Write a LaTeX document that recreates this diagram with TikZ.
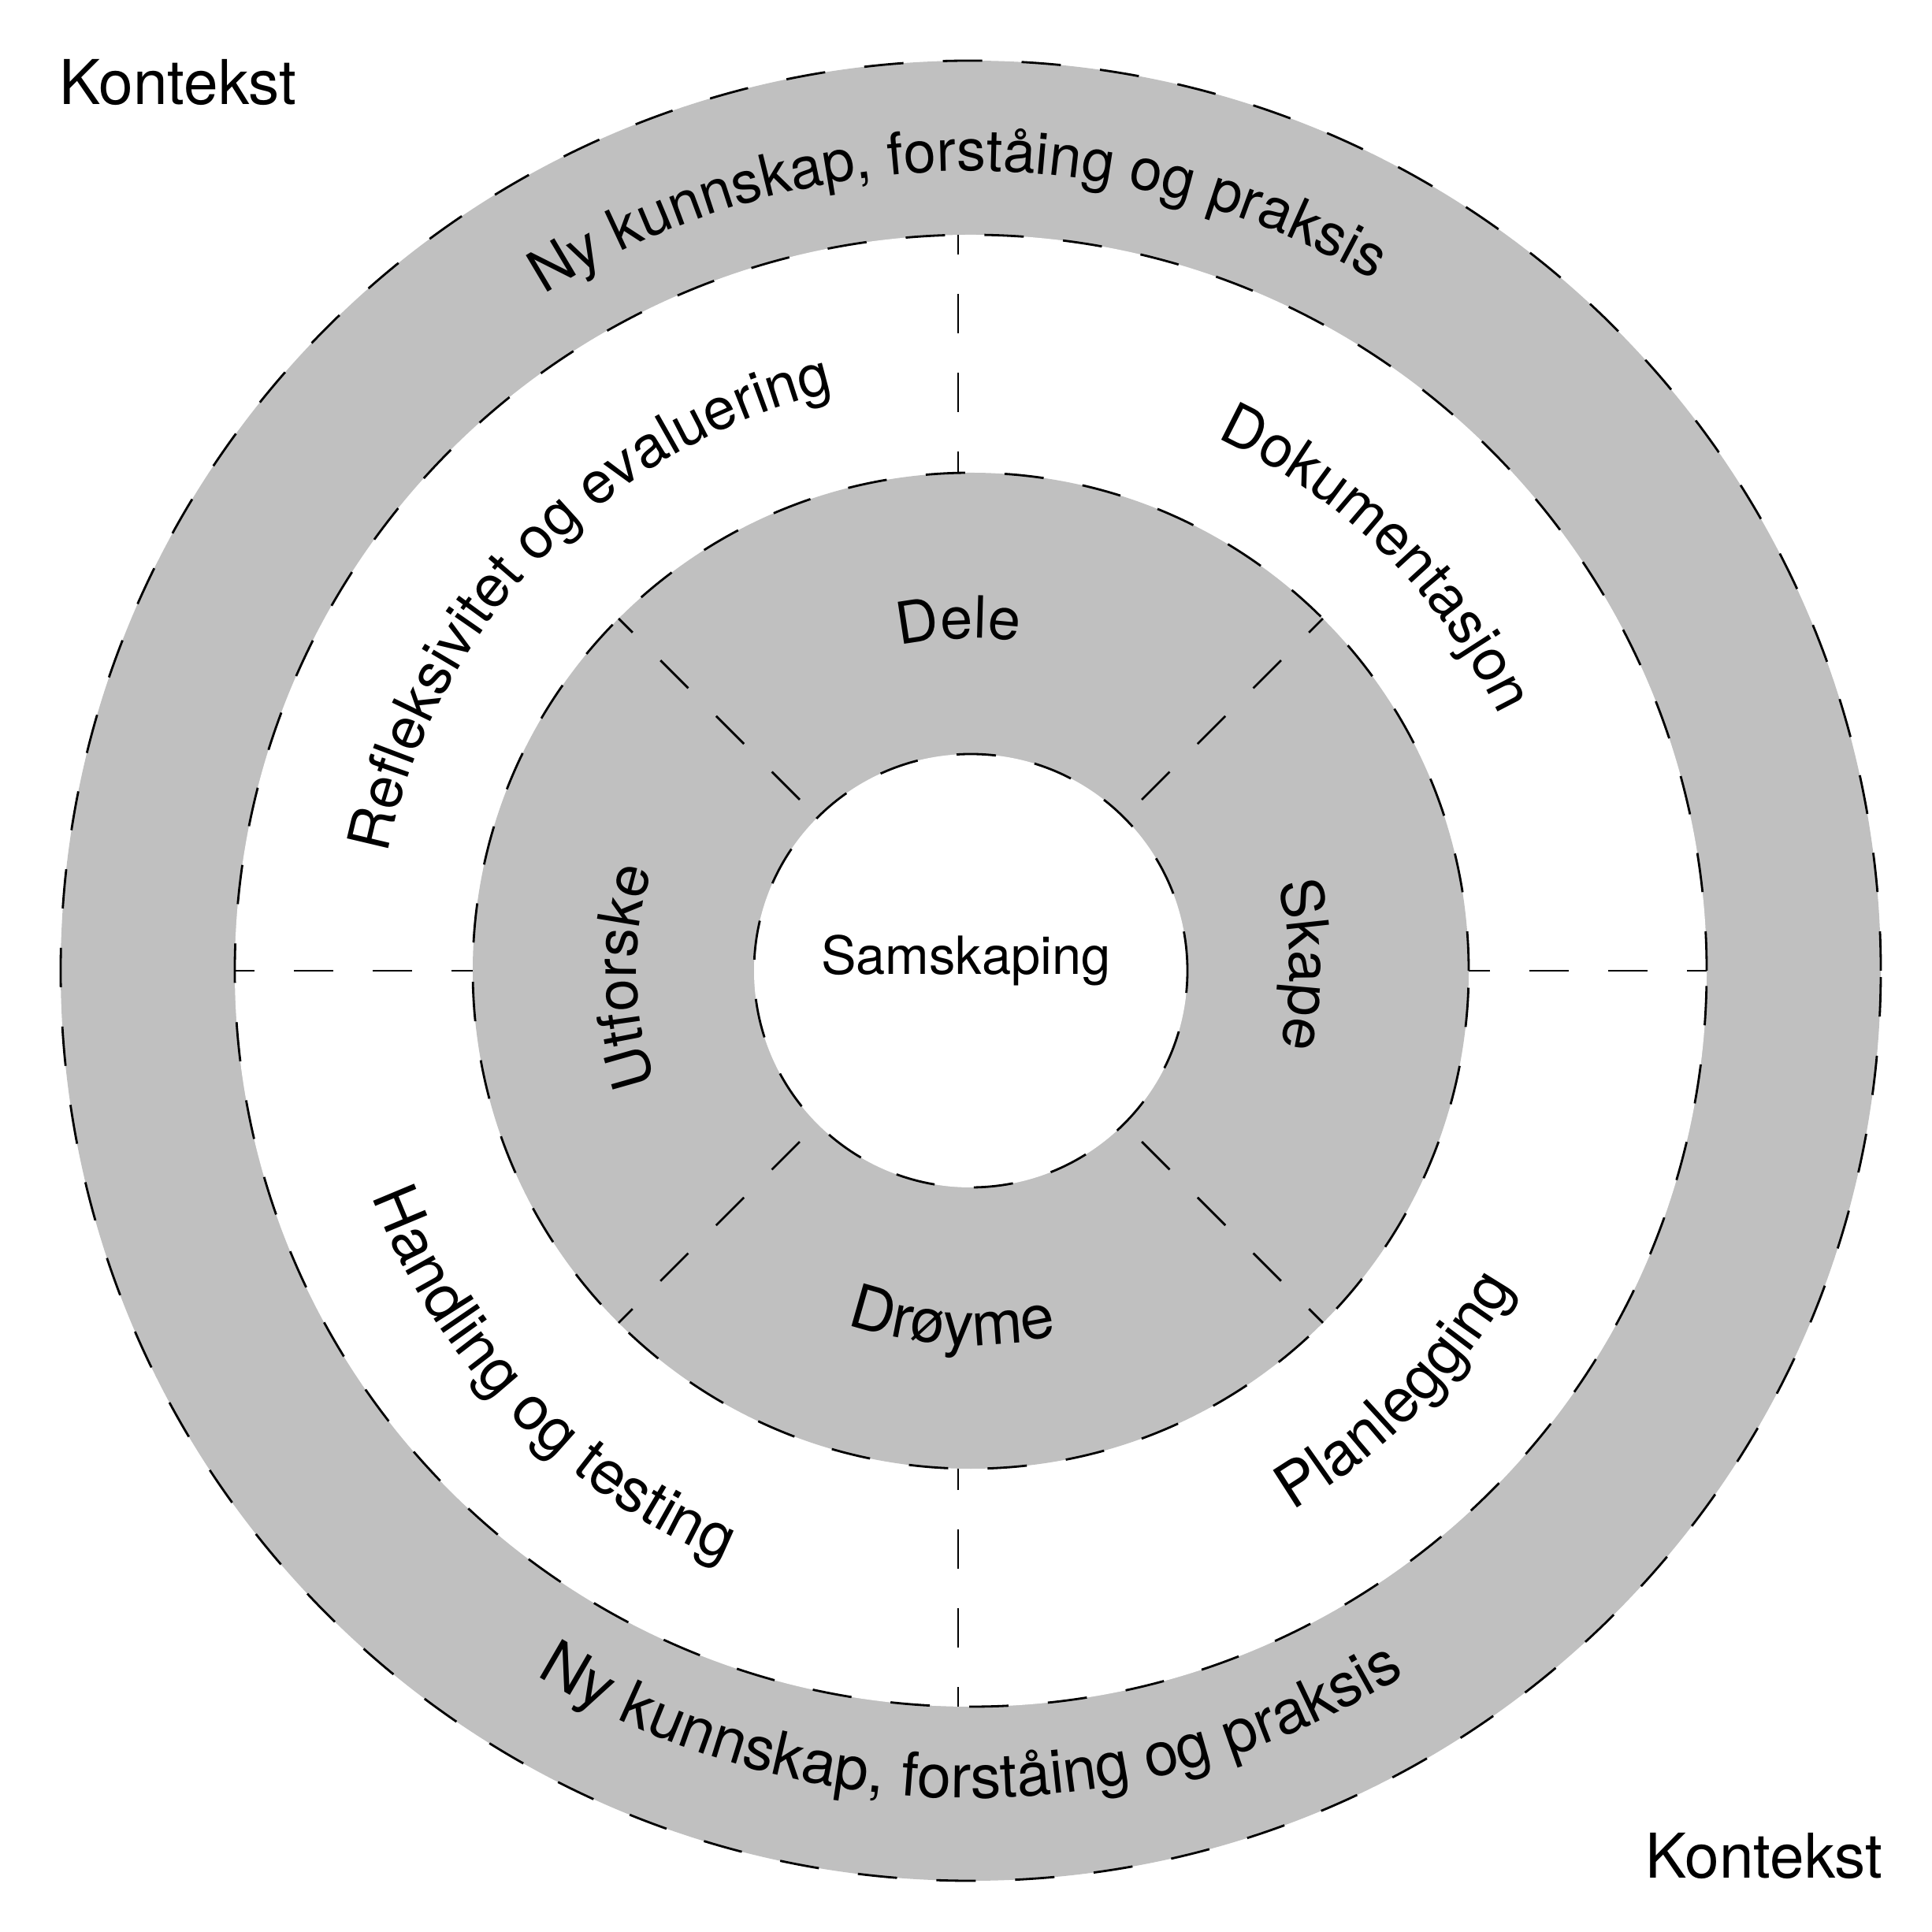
\documentclass[tikz,border=0pt]{standalone}
\usepackage{fontspec}
\setmainfont{TeX Gyre Heros}
\usetikzlibrary{decorations.text}
\definecolor{ringgray}{RGB}{192,192,192}
\newcommand{\ringfont}{\fontsize{21}{25}\selectfont}
\newcommand{\ringfontccw}{\fontsize{22}{26}\selectfont}
\newcommand{\kontekstfont}{\fontsize{22.3}{27}\selectfont}

\begin{document}
\begin{tikzpicture}
\tikzstyle{dashline} = [draw, line width=0.8pt, dash pattern=on 0.5cm off 0.5cm]
\tikzstyle{divider} = [dashline, dash phase=0.25cm]
\tikzstyle{textlabel} = [inner sep=0pt, font=\kontekstfont]
\tikzset{ringtext/.style={decorate, decoration={text along path, text align=center, text={|\ringfont|#1}}}}
\tikzset{ringtextccw/.style={decorate, decoration={text along path, text align=center, text={|\ringfontccw|#1}}}}

\useasboundingbox (-12.32,-12.20) rectangle (12.20,12.32);

% ringene
\fill[ringgray] (0,0) circle[radius=11.55];
\fill[white] (0,0) circle[radius=9.34];
\fill[ringgray] (0,0) circle[radius=6.32];
\fill[white] (0,0) circle[radius=2.75];
\foreach \r in {11.55,9.34,6.32,2.75}
  \draw[dashline] (0,0) circle[radius=\r];

% skillelinjer
\draw[divider] (-0.16,9.34) -- (-0.16,6.32);
\draw[divider] (-0.16,-9.34) -- (-0.16,-6.32);
\draw[divider] (-9.34,0) -- (-6.32,0);
\draw[divider] (9.34,0) -- (6.32,0);
\foreach \a in {45,135,225,315}
  \draw[divider] (\a:6.32) -- (\a:2.75);

% tekst langs ringene, med klokka
\path[ringtext={Ny kunnskap, forståing og praksis}] (141:10.15) arc[start angle=141, end angle=41, radius=10.15];
\path[ringtext={Refleksivitet og evaluering}] (181:7.55) arc[start angle=181, end angle=91, radius=7.55];
\path[ringtext={Dokumentasjon}] (90.5:7.45) arc[start angle=90.5, end angle=0.5, radius=7.45];
\path[ringtext={Dele}] (132:4.22) arc[start angle=132, end angle=52, radius=4.22];
\path[ringtext={Utforske}] (221:4.24) arc[start angle=221, end angle=141, radius=4.24];
\path[ringtext={Skape}] (41:4.05) arc[start angle=41, end angle=-39, radius=4.05];
% mot klokka
\path[ringtextccw={Ny kunnskap, forståing og praksis}] (220:10.5) arc[start angle=220, end angle=320, radius=10.5];
\path[ringtextccw={Handling og testing}] (179:8.12) arc[start angle=179, end angle=269, radius=8.12];
\path[ringtextccw={Planlegging}] (270.3:7.97) arc[start angle=270.3, end angle=360.3, radius=7.97];
\path[ringtextccw={Drøyme}] (227:4.75) arc[start angle=227, end angle=307, radius=4.75];

\node[inner sep=0pt, anchor=base, font=\fontsize{19}{23}\selectfont] (samskaping) at (-0.06,-0.05) {Samskaping};
\node[textlabel, anchor=base west] (kontekstTL) at (-11.57,10.99) {Kontekst};
\node[textlabel, anchor=base east] (kontekstBR) at (11.58,-11.51) {Kontekst};
\end{tikzpicture}
\end{document}
